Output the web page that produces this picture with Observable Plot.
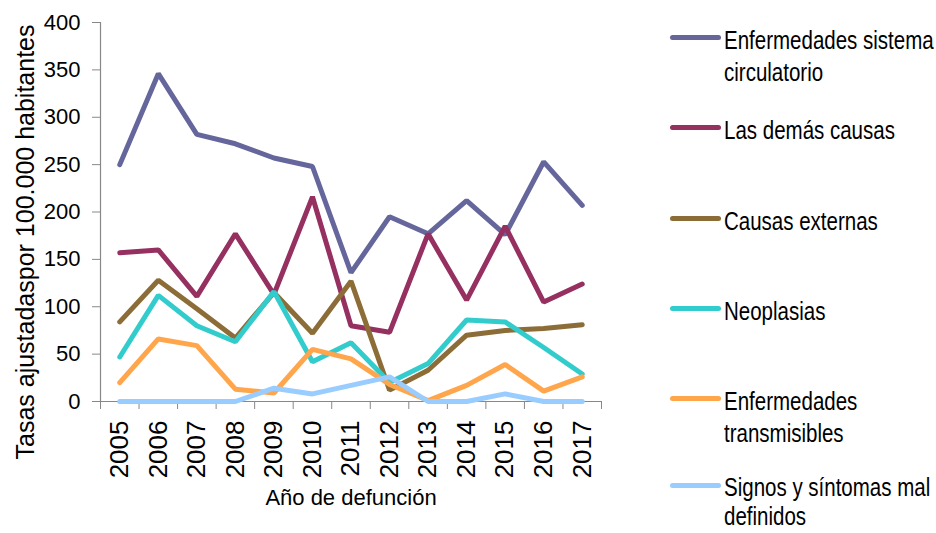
<!DOCTYPE html>
<html>
<head>
<meta charset="utf-8">
<script src="https://cdn.jsdelivr.net/npm/d3@7"></script>
<script src="https://cdn.jsdelivr.net/npm/@observablehq/plot@0.6"></script>
<style>
  body { margin: 0; background: #fff; }
  #wrap { position: relative; width: 936px; height: 533px; background: #fff; overflow: hidden; }
  .leg-line { position: absolute; left: 670px; width: 51px; height: 5px; border-radius: 3px; }
  .leg-text { position: absolute; left: 724px; font-family: "Liberation Sans", Arial, sans-serif;
              font-size: 25px; line-height: 32px; color: #000; white-space: pre;
              transform: scaleX(0.82); transform-origin: 0 0; }
</style>
</head>
<body>
<div id="wrap"></div>
<script>
// ---- data ----
const years = [2005, 2006, 2007, 2008, 2009, 2010, 2011, 2012, 2013, 2014, 2015, 2016, 2017];
const circulatorio   = [250, 346, 282, 272, 257, 248, 136, 195, 177, 212, 176, 253, 207];
const demasCausas    = [157, 160, 111, 177, 113, 216, 80, 73, 177, 107, 185, 105, 124];
const causasExternas = [84, 128, 98, 67, 115, 72, 127, 12, 33, 70, 75, 77, 81];
const neoplasias     = [47, 112, 80, 63, 116, 42, 62, 20, 40, 86, 84, 57, 29];
const transmisibles  = [20, 66, 59, 13, 9, 55, 45, 18, 1, 17, 39, 11, 26];
const signos         = [0, 0, 0, 0, 14, 8, 17, 26, 0, 0, 8, 0, 0];

const seriesNames = [
  "Enfermedades sistema circulatorio",
  "Las demás causas",
  "Causas externas",
  "Neoplasias",
  "Enfermedades transmisibles",
  "Signos y síntomas mal definidos"
];
const legendLabels = [
  "Enfermedades sistema\ncirculatorio",
  "Las demás causas",
  "Causas externas",
  "Neoplasias",
  "Enfermedades\ntransmisibles",
  "Signos y síntomas mal\ndefinidos"
];
const seriesColors = ["#65669B", "#953060", "#8C6D38", "#33CCCC", "#FFA64D", "#99CCFF"];
const seriesValues = [circulatorio, demasCausas, causasExternas, neoplasias, transmisibles, signos];
const yTicks = [0, 50, 100, 150, 200, 250, 300, 350, 400];
const xTitle = "Año de defunción";
const yTitle = "Tasas ajustadaspor 100.000 habitantes";

// ---- build ----
const rows = seriesNames.flatMap((s, i) => years.map((yr, j) => ({series: s, year: yr, value: seriesValues[i][j]})));
const boundaries = [...years.map(y => y - 0.5), years[years.length - 1] + 0.5];

const font = '"Liberation Sans", Arial, sans-serif';

const chart = Plot.plot({
  width: 936,
  height: 533,
  marginLeft: 100,
  marginRight: 335,
  marginTop: 22,
  marginBottom: 132,
  style: {fontFamily: font, fontSize: "22px", color: "#000", background: "#fff", overflow: "visible"},
  x: {type: "linear", domain: [boundaries[0], boundaries[boundaries.length - 1]]},
  y: {domain: [0, 400]},
  color: {domain: seriesNames, range: seriesColors},
  marks: [
    Plot.ruleY([0], {stroke: "#888", strokeWidth: 1.2}),
    Plot.ruleX([boundaries[0]], {stroke: "#888", strokeWidth: 1.2}),
    Plot.axisY({ticks: yTicks, tickSize: 8, tickPadding: 12, stroke: "#888", label: null, fontSize: 22}),
    Plot.axisX({ticks: boundaries, tickSize: 8, tickFormat: () => "", stroke: "#888", label: null}),
    Plot.axisX({ticks: years, tickSize: 0, tickPadding: 19, tickRotate: -90, tickFormat: d => String(d),
                label: null, fontSize: 26}),
    Plot.line(rows, {x: "year", y: "value", z: "series", stroke: "series", strokeWidth: 5,
                     strokeLinejoin: "miter", strokeLinecap: "round"}),
    Plot.text([yTitle], {text: d => d, frameAnchor: "left", textAnchor: "middle", dx: -75, dy: 30, rotate: -90,
                         fontSize: 25, fill: "#000"}),
    Plot.text([xTitle], {text: d => d, frameAnchor: "bottom", textAnchor: "middle", dy: 103,
                         fontSize: 22, fill: "#000"})
  ]
});

const wrap = document.getElementById("wrap");
wrap.appendChild(chart);

// ---- legend (HTML, right side) ----
const legendY = [37, 127, 218, 308, 398, 485];
legendLabels.forEach((lab, i) => {
  const last = i === legendLabels.length - 1;
  const ln = document.createElement("div");
  ln.className = "leg-line";
  ln.style.top = (legendY[i] - 2.5) + "px";
  ln.style.background = seriesColors[i];
  wrap.appendChild(ln);
  const tx = document.createElement("div");
  tx.className = "leg-text";
  if (last) tx.style.lineHeight = "29px";
  tx.style.top = (legendY[i] - (last ? 12 : 13.5)) + "px";
  tx.textContent = lab;
  wrap.appendChild(tx);
});
</script>
</body>
</html>
